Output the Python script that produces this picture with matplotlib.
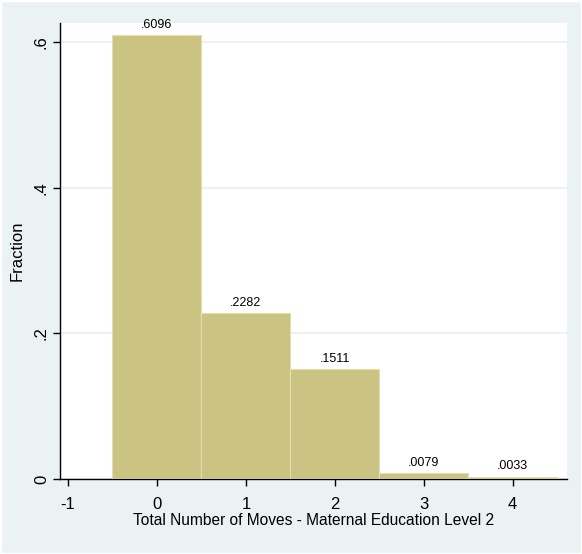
import matplotlib
matplotlib.use('Agg')

import matplotlib.pyplot as plt
from matplotlib.patches import Rectangle

# Histogram data (fraction per number of moves)
moves = [0, 1, 2, 3, 4]
fractions = [0.6096, 0.2282, 0.1511, 0.0079, 0.0033]
bar_labels = ['.6096', '.2282', '.1511', '.0079', '.0033']
xticks = [-1, 0, 1, 2, 3, 4]
yticks = [0, 0.2, 0.4, 0.6]
ytick_labels = ['0', '.2', '.4', '.6']

bg = '#EAF2F3'
bar_color = '#CBC382'

plt.rcParams['font.family'] = ['Liberation Sans', 'DejaVu Sans']

fig = plt.figure(figsize=(5.82, 5.54), dpi=100, facecolor=bg)
# thin white frame round the graph region
fig.patches.append(Rectangle((0, 0), 1, 1, transform=fig.transFigure,
                             fill=False, edgecolor='white', linewidth=2.5))
ax = fig.add_axes([0.1031, 0.1354, 0.8711, 0.8236])
ax.set_facecolor('white')

ax.bar(moves, fractions, width=1.0, color=bar_color, edgecolor='#E4DDB0',
       linewidth=0.8, zorder=3)

for x, y, lab in zip(moves, fractions, bar_labels):
    ax.text(x, y + 0.006, lab, ha='center', va='bottom', fontsize=9, zorder=4)

ax.set_xlim(-1.09, 4.61)
ax.set_ylim(0, 0.627)

ax.set_xticks(xticks)
ax.set_xticklabels([str(t) for t in xticks], fontsize=12)
ax.set_yticks(yticks)
ax.set_yticklabels(ytick_labels, fontsize=12, rotation=90, va='center')

ax.yaxis.grid(True, color=bg, linewidth=1.5, zorder=0)
ax.set_axisbelow(True)

for side in ['top', 'right']:
    ax.spines[side].set_visible(False)
for side in ['left', 'bottom']:
    ax.spines[side].set_linewidth(1.0)
ax.tick_params(length=5, width=1.0)
ax.tick_params(axis='x', pad=8)
ax.tick_params(axis='y', pad=3)

ax.set_xlabel('Total Number of Moves - Maternal Education Level 2', fontsize=11.2, labelpad=1)
ax.set_ylabel('Fraction', fontsize=12, labelpad=7)

fig.savefig('out.png', dpi=100, facecolor=bg)
plt.close(fig)
